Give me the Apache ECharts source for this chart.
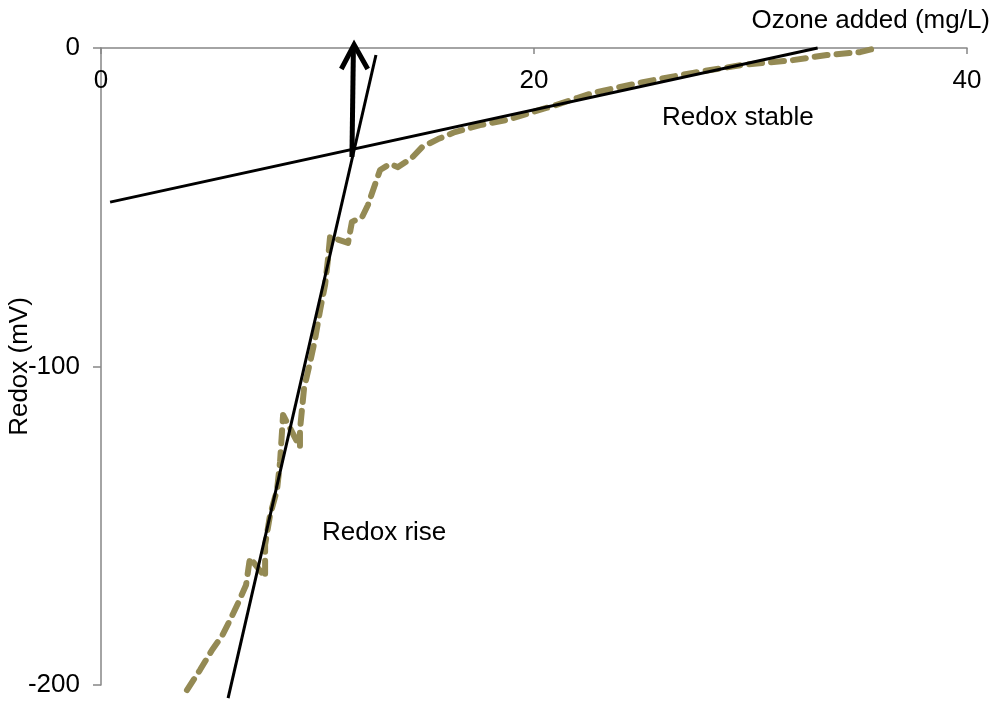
<!DOCTYPE html>
<html>
<head>
<meta charset="utf-8">
<title>Redox vs ozone added</title>
<script src="https://cdn.jsdelivr.net/npm/echarts@6/dist/echarts.min.js"></script>
<style>
  html, body { margin: 0; padding: 0; background: #fff; }
  #chart { width: 1000px; height: 710px; }
</style>
</head>
<body>
<div id="chart"></div>
<script>
// measured redox curve (x = ozone added mg/L, y = redox mV)
const ozone = [3.97, 4.57, 5.13, 5.59, 5.96, 6.33, 6.70, 6.88, 7.58, 7.58, 7.81, 8.13, 8.27, 8.41, 9.19, 9.19,
  9.38, 9.65, 9.88, 10.12, 10.35, 10.48, 10.58, 11.41, 11.59, 12.06, 12.33, 12.89, 13.35, 13.72, 14.36, 14.83,
  15.57, 16.35, 17.51, 18.75, 19.95, 20.88, 21.99, 22.73, 25.03, 27.34, 29.65, 31.96, 33.53, 35.06, 35.84]
const redox = [-201.6, -195.3, -189.0, -184.6, -179.6, -174.3, -168.6, -160.1, -166.1, -156.0, -146.6, -138.8, -130.0, -115.2, -125.3, -119.9,
  -106.8, -98.9, -91.7, -82.3, -74.4, -66.6, -59.3, -61.2, -54.6, -53.1, -49.3, -38.3, -36.4, -37.4, -34.5, -31.1,
  -28.6, -26.4, -24.2, -22.6, -20.1, -18.2, -15.7, -14.1, -10.7, -7.8, -5.3, -3.8, -2.2, -1.3, 0]

// fitted trend lines
const riseLine = [[5.87, -204.1], [12.70, -2.2]]
const stableLine = [[0.42, -48.4], [33.1, 0]]

// arrow marking the break point
const arrowShaft = [[11.59, -34.2], [11.66, 0.5]]
const arrowHead = [[11.10, -6.6], [11.69, 1.0], [12.32, -6.6]]

const xTicks = [0, 20, 40]
const yTicks = [-200, -100, 0]

const font = 'Liberation Sans, Arial, sans-serif'
const axisGray = '#868686'

let myChart = echarts.init(document.getElementById('chart'))

let options = {
  animation: false,
  grid: {
    left: 101,
    right: 33,
    top: 48,
    bottom: 25,
    outerBoundsMode: 'none'
  },
  xAxis: {
    type: 'value',
    position: 'top',
    min: xTicks[0],
    max: xTicks[xTicks.length - 1],
    interval: 20,
    name: 'Ozone added (mg/L)',
    nameLocation: 'end',
    nameGap: 23,
    nameMoveOverlap: false,
    nameTextStyle: {
      fontFamily: font,
      fontSize: 26,
      color: '#000',
      align: 'right',
      verticalAlign: 'bottom',
      padding: [0, 0, 14, 0]
    },
    axisLine: { show: true, onZero: false, lineStyle: { color: axisGray, width: 1.5 } },
    axisTick: { show: true, inside: true, length: 6, lineStyle: { color: axisGray, width: 1.5 } },
    axisLabel: {
      inside: true,
      margin: 20,
      fontFamily: font,
      fontSize: 26,
      color: '#000'
    },
    splitLine: { show: false }
  },
  yAxis: {
    type: 'value',
    min: yTicks[0],
    max: yTicks[yTicks.length - 1],
    interval: 100,
    name: 'Redox (mV)',
    nameLocation: 'middle',
    nameGap: 68,
    nameRotate: 90,
    nameMoveOverlap: false,
    nameTextStyle: {
      fontFamily: font,
      fontSize: 26,
      color: '#000'
    },
    axisLine: { show: true, onZero: false, lineStyle: { color: axisGray, width: 1.5 } },
    axisTick: { show: true, length: 8, lineStyle: { color: axisGray, width: 1.5 } },
    axisLabel: {
      margin: 21,
      fontFamily: font,
      fontSize: 26,
      color: '#000'
    },
    splitLine: { show: false }
  },
  series: [
    {
      name: 'Redox',
      type: 'line',
      clip: false,
      symbol: 'none',
      data: ozone.map((v, i) => [v, redox[i]]),
      lineStyle: { color: '#948A54', width: 6, type: [13, 9], cap: 'round', join: 'round' },
      z: 2
    },
    {
      name: 'Redox rise',
      type: 'line',
      clip: false,
      symbol: 'none',
      data: riseLine,
      lineStyle: { color: '#000', width: 3 },
      z: 3
    },
    {
      name: 'Redox stable',
      type: 'line',
      clip: false,
      symbol: 'none',
      data: stableLine,
      lineStyle: { color: '#000', width: 3 },
      z: 3
    },
    {
      name: 'arrow',
      type: 'line',
      clip: false,
      symbol: 'none',
      data: arrowShaft,
      lineStyle: { color: '#000', width: 5 },
      z: 4
    },
    {
      name: 'arrow head',
      type: 'line',
      clip: false,
      symbol: 'none',
      data: arrowHead,
      lineStyle: { color: '#000', width: 5, join: 'miter', cap: 'butt' },
      z: 4
    }
  ],
  graphic: [
    {
      type: 'text',
      left: 662,
      top: 105,
      style: { text: 'Redox stable', fontFamily: font, fontSize: 26, fill: '#000' }
    },
    {
      type: 'text',
      left: 322,
      top: 520,
      style: { text: 'Redox rise', fontFamily: font, fontSize: 26, fill: '#000' }
    }
  ]
}

myChart.setOption(options)
</script>
</body>
</html>
